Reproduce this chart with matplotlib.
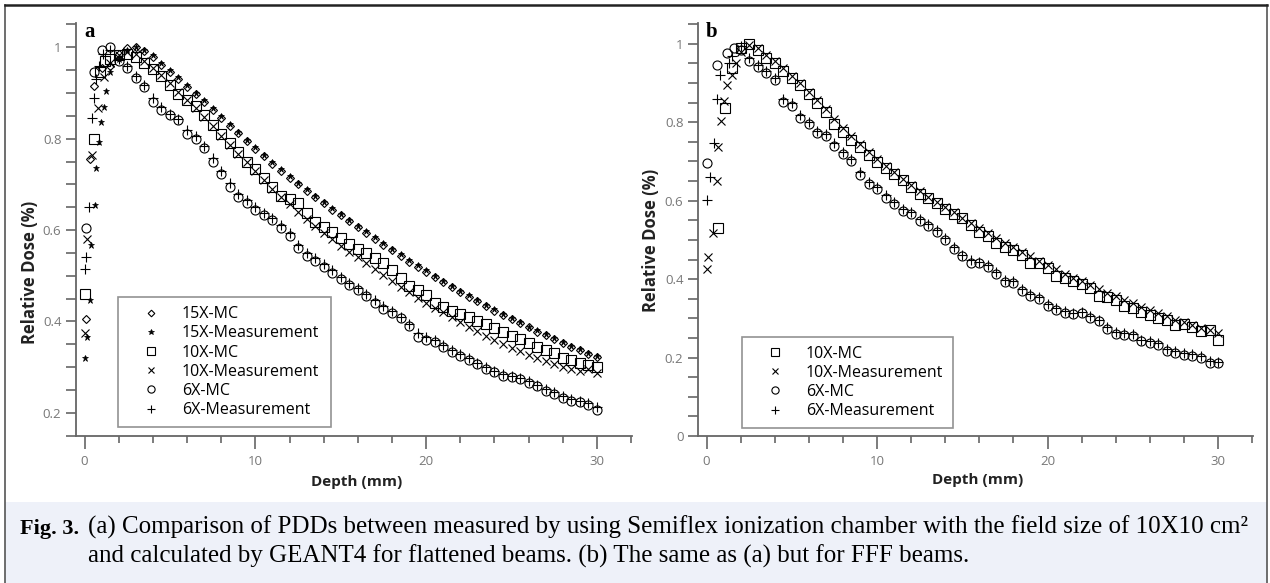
import matplotlib
matplotlib.use("Agg")
import matplotlib.pyplot as plt
from matplotlib.lines import Line2D
from matplotlib.patches import Rectangle
from matplotlib.ticker import MultipleLocator

# ---- panel a (flattened beams) ----
grid_a = [1.5, 2.0, 2.5, 3.0, 3.5, 4.0, 4.5, 5.0, 5.5, 6.0, 6.5, 7.0, 7.5, 8.0, 8.5, 9.0,
          9.5, 10.0, 10.5, 11.0, 11.5, 12.0, 12.5, 13.0, 13.5, 14.0, 14.5, 15.0, 15.5, 16.0,
          16.5, 17.0, 17.5, 18.0, 18.5, 19.0, 19.5, 20.0, 20.5, 21.0, 21.5, 22.0, 22.5, 23.0,
          23.5, 24.0, 24.5, 25.0, 25.5, 26.0, 26.5, 27.0, 27.5, 28.0, 28.5, 29.0, 29.5, 30.0]

mc15_x = [0.1, 0.3, 0.55, 1.0] + grid_a
mc15_y = [0.405, 0.755, 0.915, 0.955,
          0.96, 0.985, 0.998, 1.0, 0.992, 0.978, 0.962, 0.946, 0.93, 0.913, 0.897, 0.88,
          0.863, 0.846, 0.828, 0.812, 0.795, 0.778, 0.762, 0.745, 0.73, 0.715, 0.70, 0.686,
          0.672, 0.659, 0.645, 0.633, 0.619, 0.606, 0.594, 0.58, 0.568, 0.556, 0.544, 0.531,
          0.52, 0.508, 0.497, 0.486, 0.475, 0.464, 0.454, 0.444, 0.434, 0.424, 0.415, 0.405,
          0.396, 0.387, 0.378, 0.37, 0.361, 0.353, 0.345, 0.337, 0.329, 0.322]

meas15_x = [0.0, 0.15, 0.3, 0.4, 0.6, 0.7, 0.85, 0.95, 1.15, 1.25] + grid_a
meas15_y = [0.32, 0.365, 0.447, 0.567, 0.655, 0.735, 0.793, 0.836, 0.87, 0.905,
            0.946, 0.975, 0.993, 1.0, 0.995, 0.982, 0.966, 0.95, 0.934, 0.917, 0.9, 0.884,
            0.866, 0.849, 0.832, 0.815, 0.798, 0.781, 0.765, 0.749, 0.733, 0.718, 0.703,
            0.689, 0.675, 0.661, 0.648, 0.635, 0.622, 0.609, 0.597, 0.584, 0.572, 0.559,
            0.547, 0.535, 0.523, 0.512, 0.5, 0.489, 0.478, 0.467, 0.457, 0.446, 0.436,
            0.427, 0.417, 0.408, 0.399, 0.389, 0.381, 0.372, 0.363, 0.355, 0.347, 0.339,
            0.332, 0.325]

mc10_x = [0.0, 0.55, 0.9, 1.2] + grid_a
mc10_y = [0.46, 0.80, 0.945, 0.97,
          0.975, 0.982, 0.986, 0.978, 0.966, 0.952, 0.937, 0.918, 0.898, 0.885, 0.872,
          0.852, 0.83, 0.81, 0.79, 0.77, 0.75, 0.733, 0.715, 0.695, 0.675, 0.668, 0.66,
          0.638, 0.618, 0.607, 0.596, 0.583, 0.57, 0.559, 0.55, 0.539, 0.528, 0.512, 0.495,
          0.478, 0.468, 0.458, 0.44, 0.432, 0.424, 0.417, 0.41, 0.402, 0.394, 0.386, 0.378,
          0.369, 0.361, 0.352, 0.344, 0.337, 0.33, 0.321, 0.316, 0.31, 0.305, 0.30]

meas10_x = [0.0, 0.15, 0.45, 0.8, 1.15] + grid_a
meas10_y = [0.375, 0.58, 0.765, 0.868, 0.935,
            0.965, 0.982, 0.99, 0.985, 0.97, 0.955, 0.94, 0.922, 0.903, 0.885, 0.866,
            0.847, 0.827, 0.806, 0.787, 0.767, 0.748, 0.729, 0.71, 0.69, 0.672, 0.656,
            0.64, 0.624, 0.61, 0.594, 0.58, 0.566, 0.552, 0.54, 0.527, 0.514, 0.501, 0.489,
            0.476, 0.465, 0.452, 0.441, 0.43, 0.42, 0.409, 0.399, 0.389, 0.379, 0.369, 0.36,
            0.351, 0.343, 0.335, 0.327, 0.32, 0.313, 0.307, 0.301, 0.297, 0.291, 0.295,
            0.288]

mc6_x = [0.1, 0.55, 1.0] + grid_a
mc6_y = [0.605, 0.945, 0.995,
         1.0, 0.97, 0.955, 0.932, 0.912, 0.88, 0.862, 0.852, 0.84, 0.81, 0.80, 0.78, 0.75,
         0.722, 0.695, 0.672, 0.66, 0.645, 0.634, 0.622, 0.605, 0.588, 0.56, 0.543, 0.533,
         0.52, 0.506, 0.492, 0.48, 0.468, 0.456, 0.44, 0.427, 0.418, 0.407, 0.39, 0.366,
         0.36, 0.356, 0.345, 0.334, 0.325, 0.316, 0.306, 0.297, 0.289, 0.281, 0.278, 0.274,
         0.266, 0.259, 0.249, 0.241, 0.233, 0.227, 0.223, 0.218, 0.207]

meas6_x = [0.0, 0.1, 0.25, 0.45, 0.55, 0.7, 0.85, 1.1] + grid_a
meas6_y = [0.514, 0.54, 0.65, 0.845, 0.89, 0.93, 0.96, 0.985,
           0.995, 0.975, 0.958, 0.937, 0.918, 0.89, 0.87, 0.855, 0.842, 0.818, 0.805, 0.785,
           0.758, 0.73, 0.702, 0.68, 0.665, 0.65, 0.638, 0.627, 0.612, 0.594, 0.568, 0.55,
           0.538, 0.525, 0.512, 0.498, 0.485, 0.473, 0.461, 0.446, 0.433, 0.422, 0.41,
           0.394, 0.375, 0.365, 0.359, 0.349, 0.338, 0.329, 0.32, 0.31, 0.301, 0.292, 0.285,
           0.28, 0.276, 0.269, 0.262, 0.252, 0.245, 0.236, 0.23, 0.226, 0.221, 0.212]

# ---- panel b (FFF beams) ----
grid_b = [2.0, 2.5, 3.0, 3.5, 4.0, 4.5, 5.0, 5.5, 6.0, 6.5, 7.0, 7.5, 8.0, 8.5, 9.0, 9.5,
          10.0, 10.5, 11.0, 11.5, 12.0, 12.5, 13.0, 13.5, 14.0, 14.5, 15.0, 15.5, 16.0,
          16.5, 17.0, 17.5, 18.0, 18.5, 19.0, 19.5, 20.0, 20.5, 21.0, 21.5, 22.0, 22.5, 23.0,
          23.5, 24.0, 24.5, 25.0, 25.5, 26.0, 26.5, 27.0, 27.5, 28.0, 28.5, 29.0, 29.5, 30.0]

fff10_mc_x = [0.7, 1.1, 1.5] + grid_b
fff10_mc_y = [0.531, 0.836, 0.938,
              0.99, 1.0, 0.985, 0.965, 0.95, 0.93, 0.912, 0.895, 0.872, 0.85, 0.825, 0.795,
              0.776, 0.755, 0.738, 0.716, 0.698, 0.683, 0.668, 0.652, 0.634, 0.617, 0.606,
              0.593, 0.58, 0.565, 0.555, 0.537, 0.52, 0.509, 0.492, 0.483, 0.474, 0.462,
              0.442, 0.44, 0.428, 0.408, 0.402, 0.394, 0.388, 0.377, 0.356, 0.355, 0.347,
              0.332, 0.326, 0.317, 0.308, 0.301, 0.296, 0.283, 0.286, 0.279, 0.268, 0.27,
              0.245]

fff10_meas_x = [0.0, 0.1, 0.4, 0.6, 0.7, 0.85, 1.0, 1.2, 1.5, 1.7] + grid_b
fff10_meas_y = [0.426, 0.457, 0.517, 0.649, 0.738, 0.802, 0.853, 0.895, 0.92, 0.95,
                0.98, 0.998, 0.99, 0.972, 0.955, 0.937, 0.918, 0.9, 0.878, 0.856, 0.834,
                0.808, 0.785, 0.764, 0.744, 0.724, 0.706, 0.688, 0.672, 0.656, 0.64, 0.624,
                0.61, 0.596, 0.583, 0.57, 0.557, 0.544, 0.53, 0.517, 0.505, 0.493, 0.481,
                0.469, 0.458, 0.447, 0.436, 0.425, 0.414, 0.404, 0.394, 0.384, 0.374, 0.365,
                0.356, 0.347, 0.338, 0.329, 0.321, 0.313, 0.305, 0.297, 0.29, 0.283, 0.276,
                0.269, 0.262]

fff6_mc_x = [0.0, 0.6, 1.2, 1.6] + grid_b
fff6_mc_y = [0.696, 0.946, 0.976, 0.99,
             0.985, 0.955, 0.94, 0.925, 0.908, 0.852, 0.842, 0.812, 0.796, 0.772, 0.766,
             0.74, 0.72, 0.702, 0.665, 0.642, 0.63, 0.608, 0.592, 0.574, 0.566, 0.549, 0.536,
             0.52, 0.5, 0.476, 0.458, 0.442, 0.44, 0.432, 0.412, 0.392, 0.39, 0.369, 0.356,
             0.35, 0.331, 0.322, 0.314, 0.31, 0.313, 0.301, 0.293, 0.272, 0.259, 0.258, 0.255,
             0.241, 0.237, 0.233, 0.216, 0.211, 0.207, 0.203, 0.199, 0.186, 0.185]

fff6_meas_x = [0.0, 0.2, 0.45, 0.6, 0.8, 1.3, 1.5] + grid_b
fff6_meas_y = [0.602, 0.66, 0.747, 0.86, 0.92, 0.95, 0.97,
               0.995, 0.965, 0.945, 0.93, 0.912, 0.86, 0.848, 0.818, 0.8, 0.778, 0.77,
               0.746, 0.725, 0.706, 0.672, 0.648, 0.635, 0.614, 0.597, 0.58, 0.57, 0.554,
               0.54, 0.524, 0.505, 0.482, 0.462, 0.448, 0.444, 0.436, 0.418, 0.398, 0.394,
               0.374, 0.361, 0.355, 0.336, 0.327, 0.318, 0.314, 0.316, 0.306, 0.297, 0.278,
               0.264, 0.263, 0.26, 0.246, 0.242, 0.238, 0.221, 0.216, 0.212, 0.208, 0.203,
               0.191, 0.189]

caption_1 = "(a) Comparison of PDDs between measured by using Semiflex ionization chamber with the field size of 10X10 cm\u00b2"
caption_2 = "and calculated by GEANT4 for flattened beams. (b) The same as (a) but for FFF beams."

W, H = 1270, 583
fig = plt.figure(figsize=(W / 100, H / 100), dpi=100)


def px_box(x0, y0, x1, y1):
    # pixel box (top-left origin) -> figure fraction rect
    return [x0 / W, 1 - y1 / H, (x1 - x0) / W, (y1 - y0) / H]


# caption background and outer frame
fig.patches.append(Rectangle((5 / W, 0), 1262 / W, 1 - 502 / H, transform=fig.transFigure,
                             facecolor="#eef1f9", edgecolor="none", zorder=0))
fig.add_artist(Line2D([5 / W, 5 / W], [0, 1 - 5 / H], color="#555555", lw=1.2))
fig.add_artist(Line2D([1267 / W, 1267 / W], [0, 1 - 5 / H], color="#555555", lw=1.2))
fig.add_artist(Line2D([5 / W, 1267 / W], [1 - 5 / H, 1 - 5 / H], color="#222222", lw=1.8))

spine_col = "#666666"
tick_col = "#777777"
mk = dict(linestyle="none", markeredgecolor="black", markeredgewidth=0.8)


def style_axes(ax, ymin):
    for s in ["top", "right"]:
        ax.spines[s].set_visible(False)
    for s in ["left", "bottom"]:
        ax.spines[s].set_color(spine_col)
        ax.spines[s].set_linewidth(1.3)
    ax.set_xlim(-0.5, 32.05)
    ax.set_ylim(ymin, 1.053)
    ax.xaxis.set_major_locator(MultipleLocator(10))
    ax.xaxis.set_minor_locator(MultipleLocator(2))
    ax.yaxis.set_major_locator(MultipleLocator(0.2))
    ax.yaxis.set_minor_locator(MultipleLocator(0.05))
    ax.tick_params(which="both", color=spine_col, width=1.2, labelcolor=tick_col,
                   labelsize=9.5)
    ax.tick_params(axis="x", which="major", length=9, pad=5)
    ax.tick_params(axis="x", which="minor", length=5)
    ax.tick_params(axis="y", which="both", length=7)
    ax.yaxis.set_major_formatter(matplotlib.ticker.FuncFormatter(lambda v, p: f"{v:g}"))
    for lab in ax.get_xticklabels() + ax.get_yticklabels():
        lab.set_family("Open Sans")


# panel a
ax1 = fig.add_axes(px_box(76, 23, 632, 436))
ax1.plot(mc15_x, mc15_y, marker="D", ms=4.2, markerfacecolor="none", label="15X-MC", **mk)
ax1.plot(meas15_x, meas15_y, marker="*", ms=5, markerfacecolor="black",
         markeredgewidth=0.5, linestyle="none", color="black", label="15X-Measurement")
ax1.plot(mc10_x, mc10_y, marker="s", ms=7, markerfacecolor="none", label="10X-MC", **mk)
ax1.plot(meas10_x, meas10_y, marker="x", ms=6, label="10X-Measurement", **mk)
ax1.plot(mc6_x, mc6_y, marker="o", ms=6.5, markerfacecolor="none", label="6X-MC", **mk)
ax1.plot(meas6_x, meas6_y, marker="+", ms=6.5, label="6X-Measurement", **mk)
style_axes(ax1, 0.1495)

# panel b
ax2 = fig.add_axes(px_box(698, 23, 1253, 436))
ax2.plot(fff10_mc_x, fff10_mc_y, marker="s", ms=7, markerfacecolor="none", label="10X-MC", **mk)
ax2.plot(fff10_meas_x, fff10_meas_y, marker="x", ms=6, label="10X-Measurement", **mk)
ax2.plot(fff6_mc_x, fff6_mc_y, marker="o", ms=6.5, markerfacecolor="none", label="6X-MC", **mk)
ax2.plot(fff6_meas_x, fff6_meas_y, marker="+", ms=6.5, label="6X-Measurement", **mk)
style_axes(ax2, 0.0)

for ax, box in [(ax1, (118, 298, 331, 427)), (ax2, (742, 339, 953, 428))]:
    x0, y0, x1, y1 = box
    leg = ax.legend(loc="lower left", bbox_to_anchor=px_box(x0, y0, x1, y1),
                    bbox_transform=fig.transFigure, mode="expand", frameon=True,
                    fancybox=False, edgecolor="#777777", borderaxespad=0,
                    prop={"family": "Open Sans", "size": 11.5}, handlelength=3.0,
                    handletextpad=0.45, labelspacing=0.2, borderpad=0.55,
                    markerscale=0.8)
    leg.get_frame().set_linewidth(1.2)
    leg.get_frame().set_facecolor("white")

# axis labels
for xc, yc in ((30, 272), (651, 240)):
    fig.text(xc / W, 1 - yc / H, "Relative Dose (%)", rotation=90, ha="center", va="center",
             family="Open Sans", weight="bold", size=12, color="#222222")
for xc, yc in ((357, 482), (978, 480)):
    fig.text(xc / W, 1 - yc / H, "Depth (mm)", ha="center", va="center",
             family="Open Sans", weight="bold", size=11, color="#222222")

# panel letters
fig.text(84 / W, 1 - 37 / H, "a", family="Liberation Serif", weight="bold", size=15,
         ha="left", va="baseline")
fig.text(706 / W, 1 - 37 / H, "b", family="Liberation Serif", weight="bold", size=15,
         ha="left", va="baseline")

# caption
fig.text(20 / W, 1 - 534 / H, "Fig. 3.", family="Liberation Serif", weight="bold", size=16,
         ha="left", va="baseline")
fig.text(88 / W, 1 - 534 / H, caption_1, family="Liberation Serif", size=18,
         ha="left", va="baseline")
fig.text(88 / W, 1 - 563 / H, caption_2, family="Liberation Serif", size=18,
         ha="left", va="baseline")

fig.savefig("out.png", dpi=100, facecolor="white")
